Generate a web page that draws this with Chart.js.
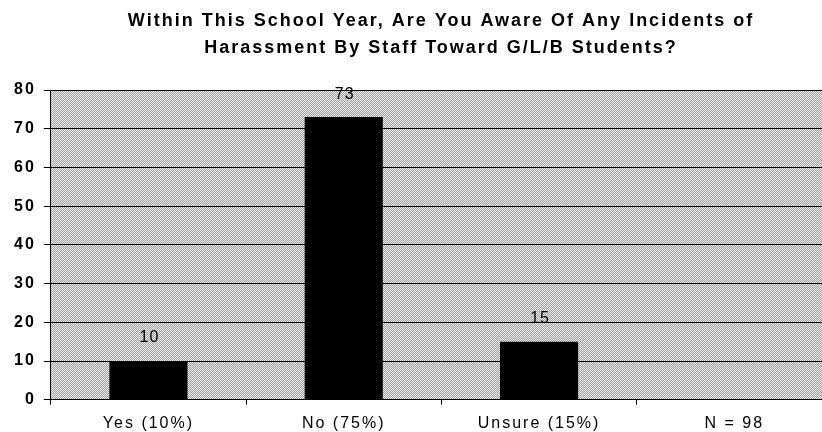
<!DOCTYPE html>
<html>
<head>
<meta charset="utf-8">
<script src="https://cdn.jsdelivr.net/npm/chart.js@4.4.1/dist/chart.umd.min.js"></script>
<style>
  html, body { margin: 0; padding: 0; background: #fff; overflow: hidden; }
  #wrap { width: 880px; height: 442px; }
</style>
</head>
<body>
<div id="wrap"><canvas id="chart" width="880" height="442"></canvas></div>
<script>
const categories = ['Yes (10%)', 'No (75%)', 'Unsure (15%)', 'N = 98'];
const counts = [10, 73, 15, null];
const titleLines = [
    'Within This School Year, Are You Aware Of Any Incidents of',
    'Harassment By Staff Toward G/L/B Students?'
];

const FONT = '"Liberation Sans", Arial, sans-serif';

// Fine halftone fill for the plot area
function makeDither(ctx) {
    const c = document.createElement('canvas');
    c.width = 2; c.height = 2;
    const p = c.getContext('2d');
    p.fillStyle = '#e8e8e8'; p.fillRect(0, 0, 2, 2);
    p.fillStyle = '#a2a2a2'; p.fillRect(1, 0, 1, 1); p.fillRect(0, 1, 1, 1);
    return ctx.createPattern(c, 'repeat');
}

// Wide letter spacing for all chart text
const spacing = {
    id: 'spacing',
    beforeUpdate(chart) { chart.ctx.letterSpacing = '2px'; },
    beforeDraw(chart) { chart.ctx.letterSpacing = '2px'; }
};

const plotBackground = {
    id: 'plotBackground',
    beforeDraw(chart) {
        const { ctx, chartArea: a } = chart;
        ctx.save();
        ctx.fillStyle = makeDither(ctx);
        ctx.fillRect(a.left, a.top, a.right - a.left, a.bottom - a.top);
        ctx.restore();
    }
};

// Two-line heading centred over the plot
const heading = {
    id: 'heading',
    afterDraw(chart) {
        const { ctx } = chart;
        ctx.save();
        ctx.font = 'bold 18px ' + FONT;
        ctx.letterSpacing = '2px';
        ctx.fillStyle = '#000';
        ctx.textAlign = 'center';
        ctx.textBaseline = 'middle';
        ctx.fillText(titleLines[0], 441, 21);
        ctx.fillText(titleLines[1], 441, 48);
        ctx.restore();
    }
};

// Count printed above each bar
const barValues = {
    id: 'barValues',
    afterDatasetsDraw(chart) {
        const { ctx } = chart;
        const meta = chart.getDatasetMeta(0);
        ctx.save();
        ctx.font = '16px ' + FONT;
        ctx.letterSpacing = '1px';
        ctx.fillStyle = '#000';
        ctx.textAlign = 'center';
        ctx.textBaseline = 'middle';
        meta.data.forEach((bar, i) => {
            if (counts[i] == null) return;
            ctx.fillText(String(counts[i]), bar.x + 1, bar.y - 23);
        });
        ctx.restore();
    }
};

const ctx = document.getElementById('chart').getContext('2d');
new Chart(ctx, {
    type: 'bar',
    data: {
        labels: categories,
        datasets: [{
            data: counts,
            backgroundColor: '#000',
            borderWidth: 0,
            barPercentage: 0.4,
            categoryPercentage: 1.0
        }]
    },
    options: {
        responsive: false,
        animation: false,
        layout: { padding: { left: 6, right: 48, top: 90, bottom: 0 } },
        plugins: {
            legend: { display: false },
            tooltip: { enabled: false },
            title: { display: false }
        },
        scales: {
            x: {
                offset: true,
                grid: {
                    offset: true,
                    drawOnChartArea: false,
                    drawTicks: true,
                    tickLength: 5,
                    color: '#000'
                },
                border: { color: '#000', width: 1 },
                ticks: {
                    color: '#000',
                    padding: 9,
                    font: { family: FONT, size: 16 }
                }
            },
            y: {
                min: 0,
                max: 80,
                ticks: {
                    stepSize: 10,
                    color: '#000',
                    padding: 8,
                    font: { family: FONT, size: 16, weight: 'bold' }
                },
                grid: { color: '#000', lineWidth: 1, tickLength: 7 },
                border: { color: '#000', width: 1 }
            }
        }
    },
    plugins: [spacing, plotBackground, barValues, heading]
});
</script>
</body>
</html>
